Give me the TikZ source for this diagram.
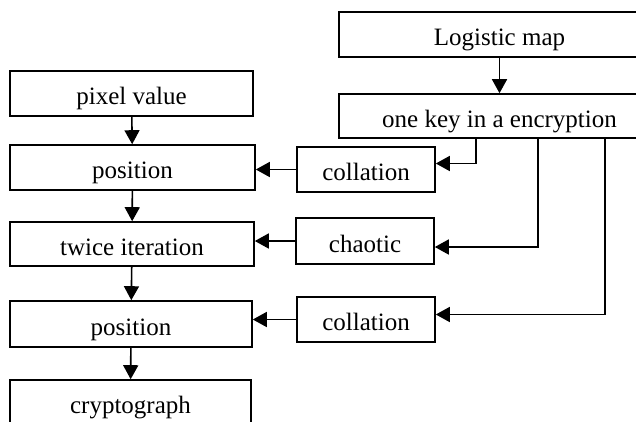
\documentclass[tikz,border=0pt]{standalone}
\usepackage{fontspec}
\setmainfont{Liberation Serif}
\usetikzlibrary{arrows.meta,positioning}
\tikzset{
  box/.style={draw,line width=1.6pt,rectangle,minimum height=45pt,
    inner sep=0pt,text height=22pt,text depth=0pt,
    font=\fontsize{25}{30}\selectfont},
  link/.style={line width=1.6pt,-{Triangle[length=14pt,width=15pt]}}
}
\begin{document}
\begin{tikzpicture}[x=1pt,y=-1pt]
  \useasboundingbox (0,0) rectangle (636,421);
  \clip (0,0) rectangle (636,421);
  % key generation
  \node[box,minimum width=321pt] (logistic) at (499.5,34.5) {Logistic map};
  \node[box,minimum width=321pt,minimum height=44pt] (onekey) at (499.5,116) {one key in a encryption};
  % main column
  \node[box,minimum width=243pt] (pixel) at (131.5,93.5) {pixel value};
  \node[box,minimum width=245pt] (pos1) at (132.5,167.5) {position};
  \node[box,minimum width=244pt,minimum height=44pt] (twice) at (132,244) {twice iteration};
  \node[box,minimum width=242pt,minimum height=46pt] (pos2) at (131,324) {position};
  \node[box,minimum width=241pt] (crypt) at (130.5,402.5) {cryptograph};
  % side column
  \node[box,minimum width=138pt] (coll1) at (366,169.5) {collation};
  \node[box,minimum width=138pt,minimum height=46pt] (chaotic) at (365,241) {chaotic};
  \node[box,minimum width=138pt] (coll2) at (366,319.5) {collation};
  % branch points under the key
  \coordinate (b1) at (476,138);
  \coordinate (b2) at (538,138);
  \coordinate (b3) at (605,138);

  \draw[link] (logistic) -- (onekey);
  \draw[link] (pixel) -- (pos1);
  \draw[link] (pos1) -- (twice);
  \draw[link] (twice) -- (pos2);
  \draw[link] (pos2) -- (crypt);
  \draw[link] (coll1.west) -- (coll1.west -| pos1.east);
  \draw[link] (chaotic.west) -- (chaotic.west -| twice.east);
  \draw[link] (coll2.west) -- (coll2.west -| pos2.east);
  \draw[link] (b1) |- ([yshift=6pt]coll1.east);
  \draw[link] (b2) |- ([yshift=-6pt]chaotic.east);
  \draw[link] (b3) |- ([yshift=5pt]coll2.east);
\end{tikzpicture}
\end{document}
